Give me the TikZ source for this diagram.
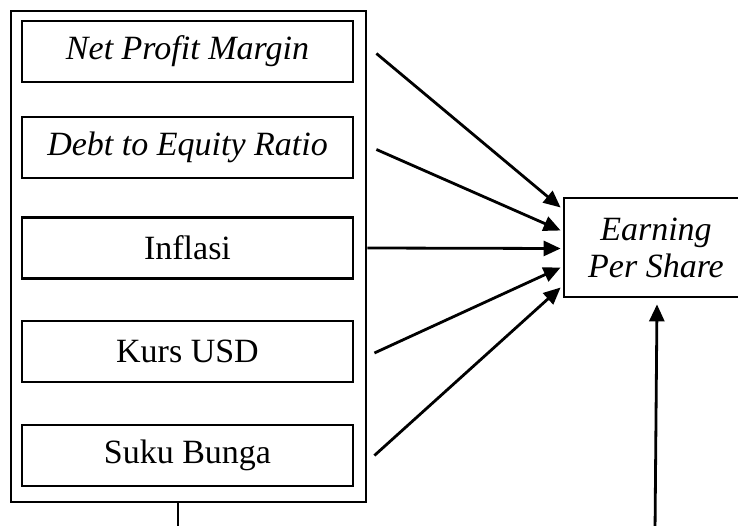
\documentclass[tikz,border=0pt]{standalone}
\usepackage{fontspec}
\setmainfont{Liberation Serif}
\usetikzlibrary{arrows.meta}

\tikzset{
  VarBox/.style={draw, line width=2.8pt, minimum width=331pt, minimum height=61pt,
    inner sep=0pt, font=\fontsize{34}{37}\selectfont},
  arr/.style={line width=2.8pt, -{Triangle[length=17pt,width=15pt]}}
}

\begin{document}
\begin{tikzpicture}[x=1pt, y=-1pt]
        \useasboundingbox (0,0) rectangle (738,526);
        \node[draw, line width=2.8pt, minimum width=355pt, minimum height=491pt] (grp) at (188.5,256.5) {};
        \node[VarBox] (npm) at (187.5,51.5) {\textit{Net Profit Margin}};
        \node[VarBox] (der) at (187.5,147.5) {\textit{Debt to Equity Ratio}};
        \node[VarBox] (infl) at (187.5,248) {Inflasi};
        \node[VarBox] (kurs) at (187.5,351.5) {Kurs USD};
        \node[VarBox] (suku) at (187.5,455.5) {Suku Bunga};
        \node[VarBox, minimum width=184pt, minimum height=99pt, align=center] (eps) at (656,247.5)
          {\textit{Earning}\\\textit{Per Share}};
        \coordinate (low1) at (178,532);
        \coordinate (low2) at (655,532);
        \draw[arr] ([xshift=22pt,yshift=-2pt]npm.east) -- ([xshift=-2pt,yshift=40pt]eps.west);
        \draw[arr] ([xshift=22pt,yshift=-2pt]der.east) -- ([xshift=-2pt,yshift=17pt]eps.west);
        \draw[arr] ([xshift=13pt]infl.east) -- ([xshift=-2pt,yshift=-1pt]eps.west);
        \draw[arr] ([xshift=20pt,yshift=-1.5pt]kurs.east) -- ([xshift=-2pt,yshift=-20pt]eps.west);
        \draw[arr] ([xshift=20pt]suku.east) -- ([xshift=-2pt,yshift=-40pt]eps.west);
        \draw[line width=2.8pt] (grp.south -| low1) -- (low1);
        \draw[arr] (low2) -- ([xshift=1pt,yshift=-6pt]eps.south);
    \end{tikzpicture}
\end{document}
